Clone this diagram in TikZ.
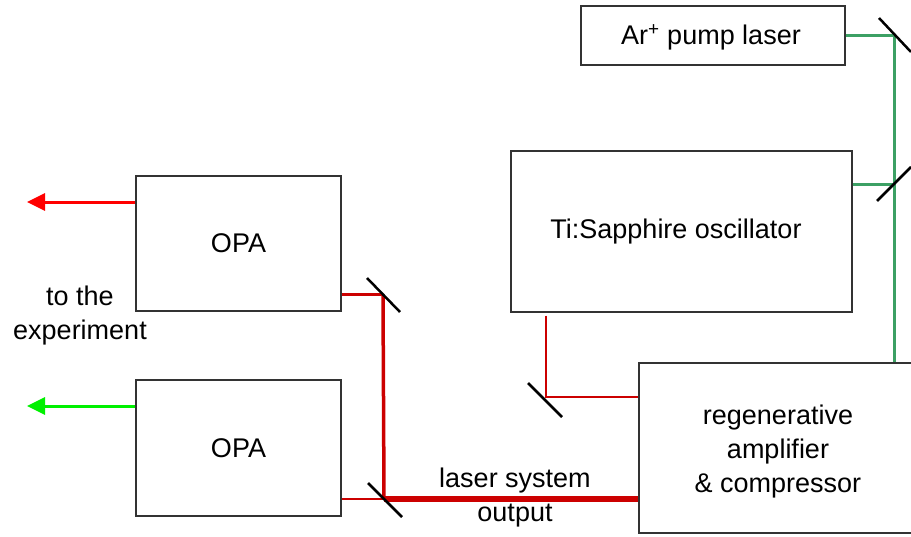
\documentclass[tikz,border=0pt]{standalone}
\usepackage{fontspec}
\setmainfont{Liberation Sans}
\usetikzlibrary{arrows.meta}
\definecolor{beamgreen}{RGB}{60,160,100}
\definecolor{beamred}{RGB}{204,0,0}
\definecolor{arrred}{RGB}{255,0,0}
\definecolor{arrgreen}{RGB}{0,240,0}
\tikzset{
  box/.style={draw=black!80, line width=1.3pt, fill=white, inner sep=0pt, align=center,
    font=\fontsize{27}{34}\selectfont},
  lbl/.style={inner sep=0pt, align=center, font=\fontsize{27}{34}\selectfont},
  mirror/.style={draw=black, line width=2.5pt},
  gbeam/.style={draw=beamgreen, line width=3pt},
  rbeam/.style={draw=beamred, line width=#1},
  outarrow/.style={line width=3pt, -{Triangle[length=18pt,width=17pt]}},
}
\begin{document}
\begin{tikzpicture}[x=1pt,y=-1pt]
\useasboundingbox (0,0) rectangle (911,536);
% boxes
\node[box, minimum width=264pt, minimum height=59pt] (pump) at (713,35.5) {};
\node[lbl] (pumptext) at (711,37) {Ar\textsuperscript{+} pump laser};
\node[box, minimum width=341pt, minimum height=161pt] (osc) at (681.5,231.5) {};
\node[lbl] (osctext) at (676,232) {Ti:Sapphire oscillator};
\node[box, minimum width=205pt, minimum height=135pt] (opa1) at (238.5,243.5) {OPA};
\node[box, minimum width=205pt, minimum height=136pt] (opa2) at (238.5,448) {OPA};
\node[box, minimum width=280pt, minimum height=170pt] (regen) at (779,448) {};
\node[lbl] (regentext) at (778,452) {regenerative\\amplifier\\\& compressor};
% mirror centres
\coordinate (m1) at (894,35);
\coordinate (m2) at (894,184);
\coordinate (m3) at (383,294);
\coordinate (m4) at (384,499);
\coordinate (m5) at (546,397);
% green pump beams
\draw[gbeam] (pump.east |- m1) -- (m1) -- (m2) -- (regen.north -| m2);
\draw[gbeam] (osc.east |- m2) -- (m2);
% red beams
\draw[rbeam=2pt] ([yshift=-3pt]osc.south -| m5) -- (m5) -- (regen.west |- m5);
\draw[rbeam=6pt] (m4) -- (regen.west |- m4);
\draw[rbeam=3.5pt] ([yshift=-1.5pt]m3) -- ([yshift=1pt]m4);
\draw[rbeam=3pt] (opa1.east |- m3) -- (m3);
\draw[rbeam=2.5pt] (opa2.east |- m4) -- (m4);
% mirrors
\draw[mirror] ([shift={(-15,-17)}]m1) -- ([shift={(17,17)}]m1);
\draw[mirror] ([shift={(-17,17)}]m2) -- ([shift={(17,-17)}]m2);
\draw[mirror] ([shift={(-16,-16)}]m3) -- ([shift={(17,18)}]m3);
\draw[mirror] ([shift={(-16,-16)}]m4) -- ([shift={(18,18)}]m4);
\draw[mirror] ([shift={(-18,-14)}]m5) -- ([shift={(16,20)}]m5);
% outputs to the experiment
\coordinate (t1) at (27,202);
\coordinate (t2) at (27,406);
\draw[outarrow, arrred] (opa1.west |- t1) -- (t1);
\draw[outarrow, arrgreen] (opa2.west |- t2) -- (t2);
\node[lbl] (exp) at (80,316) {to the\\experiment};
\node[lbl] (out) at (515,498) {laser system\\output};
\end{tikzpicture}
\end{document}
